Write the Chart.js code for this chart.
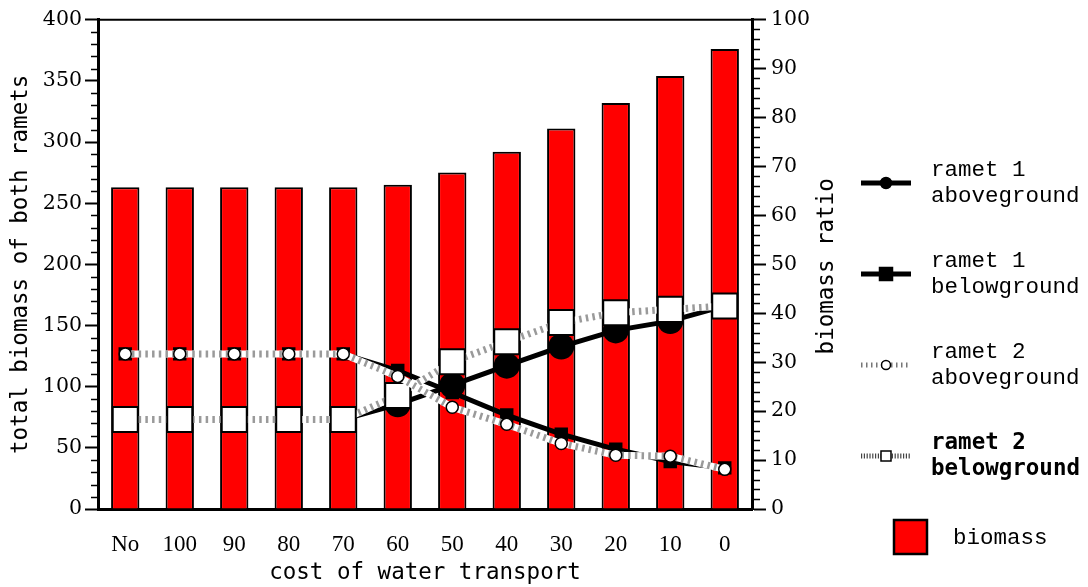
<!DOCTYPE html>
<html>
<head>
<meta charset="utf-8">
<script src="https://cdn.jsdelivr.net/npm/chart.js@4/dist/chart.umd.min.js"></script>
<style>
  html, body { margin: 0; padding: 0; background: #fff; }
  #wrap { width: 1088px; height: 587px; }
</style>
</head>
<body>
<div id="wrap"><canvas id="c" width="1088" height="587"></canvas></div>
<script>
// Cost of water transport between the two ramets
const categories = ['No', '100', '90', '80', '70', '60', '50', '40', '30', '20', '10', '0'];

// Total biomass of both ramets (left axis)
const biomass = [263, 263, 263, 263, 263, 265, 275, 292, 311, 332, 354, 376];

// Biomass ratio of each compartment, % (right axis)
const ramet1Above = [18.3, 18.3, 18.3, 18.3, 18.3, 21.4, 25.3, 29.3, 33.2, 36.5, 38.4, 41.5];
const ramet1Below = [31.7, 31.7, 31.7, 31.7, 31.7, 28.3, 23.8, 19.2, 15.3, 12.2, 9.7, 8.4];
const ramet2Above = [31.7, 31.7, 31.7, 31.7, 31.7, 27.1, 20.8, 17.3, 13.4, 11.0, 10.8, 8.1];
const ramet2Below = [18.3, 18.3, 18.3, 18.3, 18.3, 23.2, 30.1, 34.2, 38.1, 40.1, 40.8, 41.5];

// Axis tick values
const leftTicks = [0, 50, 100, 150, 200, 250, 300, 350, 400];
const rightTicks = [0, 10, 20, 30, 40, 50, 60, 70, 80, 90, 100];

const seriesNames = ['ramet 1\naboveground', 'ramet 1\nbelowground', 'ramet 2\naboveground', 'ramet 2\nbelowground', 'biomass'];

const TICK_FONT_Y = { family: 'DejaVu Serif', size: 20.5 };
const TICK_FONT_X = { family: 'Liberation Serif', size: 23 };
const TITLE_FONT = { family: 'DejaVu Sans Mono', size: 22.5 };

// White band under the hatched ramet 2 lines
const underlayPlugin = {
  id: 'underlay',
  beforeDatasetDraw(chart, args) {
    const ds = chart.data.datasets[args.index];
    if (!ds.underlayWidth) return;
    const pts = args.meta.data;
    const ctx = chart.ctx;
    ctx.save();
    ctx.strokeStyle = '#fff';
    ctx.lineWidth = ds.underlayWidth;
    ctx.lineJoin = 'miter';
    ctx.beginPath();
    pts.forEach((p, i) => i ? ctx.lineTo(p.x, p.y) : ctx.moveTo(p.x, p.y));
    ctx.stroke();
    ctx.restore();
  }
};

// Frame top edge, minor ticks, right title and the legend
const decorPlugin = {
  id: 'decor',
  afterDraw(chart) {
    const ctx = chart.ctx;
    const area = chart.chartArea;
    const yl = chart.scales.y;
    const yr = chart.scales.y2;
    ctx.save();
    ctx.strokeStyle = '#000';
    ctx.lineWidth = 2;
    ctx.beginPath();
    ctx.moveTo(area.left - 1, area.top);
    ctx.lineTo(area.right + 1, area.top);
    ctx.stroke();

    ctx.lineWidth = 1.5;
    ctx.beginPath();
    for (let v = 0; v <= 400; v += 10) {
      if (v % 50 === 0) continue;
      const y = Math.round(yl.getPixelForValue(v)) + 0.5;
      ctx.moveTo(area.left - 7, y);
      ctx.lineTo(area.left, y);
    }
    for (let v = 0; v <= 100; v += 2) {
      if (v % 10 === 0) continue;
      const y = Math.round(yr.getPixelForValue(v)) + 0.5;
      ctx.moveTo(area.right, y);
      ctx.lineTo(area.right + 8, y);
    }
    ctx.stroke();

    // right axis title, reading bottom to top
    ctx.save();
    ctx.translate(827, (area.top + area.bottom) / 2 + 2);
    ctx.rotate(-Math.PI / 2);
    ctx.font = `${TITLE_FONT.size}px "${TITLE_FONT.family}"`;
    ctx.fillStyle = '#000';
    ctx.textAlign = 'center';
    ctx.textBaseline = 'middle';
    ctx.fillText('biomass ratio', 0, 0);
    ctx.restore();

    // legend
    const lx0 = 861, lx1 = 911, lmid = 886, tx = 931;
    const rows = [
      { y: 183, ds: 0 }, { y: 274, ds: 1 }, { y: 365, ds: 2 }, { y: 456, ds: 3 }
    ];
    rows.forEach(r => {
      const ds = chart.data.datasets[r.ds];
      ctx.save();
      ctx.strokeStyle = ds.legendLineColor;
      ctx.lineWidth = ds.legendLineWidth;
      ctx.setLineDash(ds.legendDash || []);
      ctx.beginPath();
      ctx.moveTo(lx0, r.y);
      ctx.lineTo(lx1, r.y);
      ctx.stroke();
      ctx.setLineDash([]);
      ctx.fillStyle = ds.pointBackgroundColor;
      ctx.strokeStyle = '#000';
      ctx.lineWidth = 1.5;
      const s = ds.legendMarker;
      if (ds.pointStyle === 'circle') {
        ctx.beginPath();
        ctx.arc(lmid, r.y, s, 0, Math.PI * 2);
        ctx.fill();
        ctx.stroke();
      } else {
        ctx.fillRect(lmid - s, r.y - s, 2 * s, 2 * s);
        ctx.strokeRect(lmid - s, r.y - s, 2 * s, 2 * s);
      }
      ctx.fillStyle = '#000';
      ctx.font = ds.legendFont;
      ctx.textAlign = 'left';
      ctx.textBaseline = 'middle';
      const lines = ds.label.split('\n');
      ctx.fillText(lines[0], tx, r.y - 13);
      ctx.fillText(lines[1], tx, r.y + 13);
      ctx.restore();
    });
    const bar = chart.data.datasets[4];
    ctx.fillStyle = bar.backgroundColor;
    ctx.fillRect(894, 520, 34, 35);
    ctx.strokeStyle = '#000';
    ctx.lineWidth = 2.5;
    ctx.strokeRect(894, 520, 33, 34);
    ctx.fillStyle = '#000';
    ctx.font = '22.5px "Liberation Mono"';
    ctx.textBaseline = 'middle';
    ctx.fillText(bar.label, 953, 538);
    ctx.restore();
  }
};

new Chart(document.getElementById('c'), {
  data: {
    labels: categories,
    datasets: [
      {
        type: 'line', label: seriesNames[0], data: ramet1Above, yAxisID: 'y2', order: 3,
        borderColor: '#000', borderWidth: 5, pointStyle: 'circle', pointRadius: 13,
        pointBackgroundColor: '#000', pointBorderColor: '#000', pointBorderWidth: 0,
        legendLineColor: '#000', legendLineWidth: 5, legendMarker: 5.5,
        legendFont: '22.5px "Liberation Mono"'
      },
      {
        type: 'line', label: seriesNames[1], data: ramet1Below, yAxisID: 'y2', order: 2,
        borderColor: '#000', borderWidth: 5, pointStyle: 'rect', pointRadius: 9.5,
        pointBackgroundColor: '#000', pointBorderColor: '#000', pointBorderWidth: 0,
        legendLineColor: '#000', legendLineWidth: 5, legendMarker: 6.5,
        legendFont: '22.5px "Liberation Mono"'
      },
      {
        type: 'line', label: seriesNames[2], data: ramet2Above, yAxisID: 'y2', order: 0,
        borderColor: '#9a9a9a', borderWidth: 7, borderDash: [2.5, 4.2], underlayWidth: 7,
        pointStyle: 'circle', pointRadius: 6,
        pointBackgroundColor: '#fff', pointBorderColor: '#000', pointBorderWidth: 1.5,
        legendLineColor: '#777', legendLineWidth: 5, legendDash: [1.5, 3.5], legendMarker: 4.5,
        legendFont: '22.5px "Liberation Mono"'
      },
      {
        type: 'line', label: seriesNames[3], data: ramet2Below, yAxisID: 'y2', order: 1,
        borderColor: '#9a9a9a', borderWidth: 7, borderDash: [2.5, 4.2], underlayWidth: 7,
        pointStyle: 'rect', pointRadius: 17.7,
        pointBackgroundColor: '#fff', pointBorderColor: '#000', pointBorderWidth: 2,
        legendLineColor: '#444', legendLineWidth: 5, legendDash: [1.2, 1.6], legendMarker: 5,
        legendFont: 'bold 22.5px "DejaVu Sans Mono"'
      },
      {
        type: 'bar', label: seriesNames[4], data: biomass, yAxisID: 'y', order: 4,
        backgroundColor: '#ff0000', borderColor: '#000', borderWidth: 2,
        borderSkipped: 'bottom', barPercentage: 0.52, categoryPercentage: 1
      }
    ]
  },
  options: {
    responsive: false,
    animation: false,
    devicePixelRatio: 1,
    layout: { padding: { top: 18, right: 238, left: 0, bottom: 0 } },
    plugins: { legend: { display: false }, tooltip: { enabled: false } },
    scales: {
      x: {
        type: 'category',
        offset: true,
        grid: { display: false, drawTicks: false },
        border: { display: true, color: '#000', width: 3 },
        ticks: { color: '#000', font: TICK_FONT_X, padding: 22, maxRotation: 0, autoSkip: false },
        title: { display: true, text: 'cost of water transport', color: '#000', font: TITLE_FONT, padding: { top: 0, bottom: 0 } },
        afterFit(s) { s.height = 78; }
      },
      y: {
        position: 'left', min: 0, max: 400,
        afterBuildTicks(s) { s.ticks = leftTicks.map(v => ({ value: v })); },
        grid: { display: true, drawOnChartArea: false, drawTicks: true, tickLength: 13, tickColor: '#000', tickWidth: 2 },
        border: { display: true, color: '#000', width: 3 },
        ticks: { color: '#000', font: TICK_FONT_Y, padding: 3 },
        title: { display: true, text: 'total biomass of both ramets', color: '#000', font: TITLE_FONT, padding: { top: 8, bottom: 0 } },
        afterFit(s) { s.width = 98; }
      },
      y2: {
        position: 'right', min: 0, max: 100,
        afterBuildTicks(s) { s.ticks = rightTicks.map(v => ({ value: v })); },
        grid: { display: true, drawOnChartArea: false, drawTicks: true, tickLength: 14, tickColor: '#000', tickWidth: 2 },
        border: { display: true, color: '#000', width: 3 },
        ticks: { color: '#000', font: TICK_FONT_Y, padding: 5 },
        afterFit(s) { s.width = 98; }
      }
    }
  },
  plugins: [underlayPlugin, decorPlugin]
});
</script>
</body>
</html>
